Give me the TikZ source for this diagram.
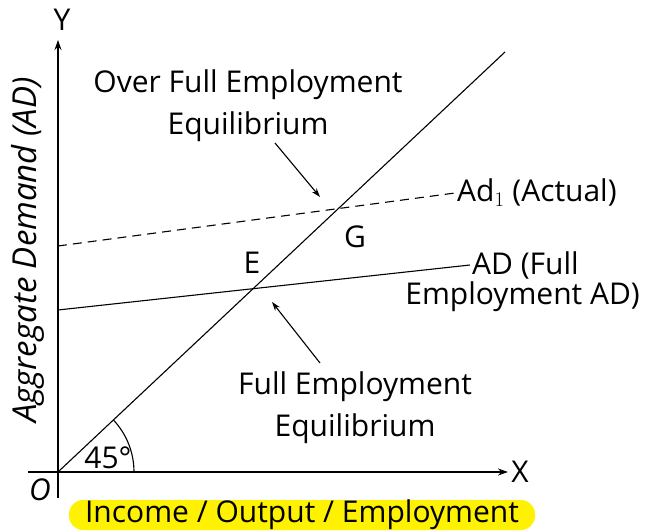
\documentclass[tikz,border=0pt]{standalone}
\usepackage{fontspec}
\setmainfont{Open Sans}
\usetikzlibrary{arrows.meta}
\tikzset{
  lbl/.style={font=\fontsize{30}{42}\selectfont},
  curve/.style={line width=1.1pt},
  pointer/.style={line width=1.1pt,-{Stealth[length=9pt,width=6pt]}},
}
\begin{document}
\begin{tikzpicture}[x=1pt,y=1pt]
                \useasboundingbox (-58,-58) rectangle (589,472);
                % axes
                \coordinate (O) at (0,0);
                \coordinate (xl) at (-30,0);
                \coordinate (xr) at (450,0);
                \coordinate (yb) at (0,-26);
                \coordinate (yt) at (0,432);
                \draw[curve,-{Stealth[length=10pt,width=7pt]}] (xl) -- (xr);
                \draw[curve,-{Stealth[length=10pt,width=7pt]}] (yb) -- (yt);
                \node[lbl] (X) at (462,0) {X};
                \node[lbl] (Y) at (4,452) {Y};
                \node[lbl,font=\fontsize{30}{36}\itshape] (Olbl) at (-18,-18) {O};
                % 45 degree line
                \coordinate (top) at (447,420);
                \draw[curve] (O) -- (top);
                \draw[curve] (76,0) arc (0:43:76);
                \node[lbl] (ang) at (50,14) {45\textdegree};
                % AD lines
                \coordinate (ad0) at (0,162);
                \coordinate (ad1) at (412,207);
                \coordinate (act0) at (0,226);
                \coordinate (act1) at (397,279);
                \draw[curve] (ad0) -- (ad1);
                \draw[curve,dashed,dash pattern=on 9pt off 6pt] (act0) -- (act1);
                \node[lbl,anchor=west,inner sep=2pt] (adlbl) at (ad1) {AD (Full};
                \node[lbl,anchor=east,inner sep=2pt] (adlbl2) at (584,175) {Employment AD)};
                \node[lbl,anchor=west,inner sep=2pt] (actlbl) at (act1) {Ad$_1$ (Actual)};
                \node[lbl] (E) at (194,209) {E};
                \node[lbl] (G) at (297,235) {G};
                % labels with arrows
                \node[lbl,align=center] (over) at (190,366) {Over Full Employment\\Equilibrium};
                \node[lbl,align=center] (full) at (297,64) {Full Employment\\Equilibrium};
                \coordinate (p1) at (217,329);
                \coordinate (p2) at (262,275);
                \coordinate (q1) at (262,109);
                \coordinate (q2) at (214,170);
                \draw[pointer] (p1) -- (p2);
                \draw[pointer] (q1) -- (q2);
                % axis titles
                \node[lbl,rotate=90,font=\fontsize{33}{36}\itshape] (ytitle) at (-30,222) {Aggregate Demand (AD)};
                \node[lbl,fill=yellow,rounded corners=14pt,minimum width=466pt,minimum height=30pt,inner sep=0pt] (xtitle) at (244,-43) {Income / Output / Employment};
\end{tikzpicture}
\end{document}
